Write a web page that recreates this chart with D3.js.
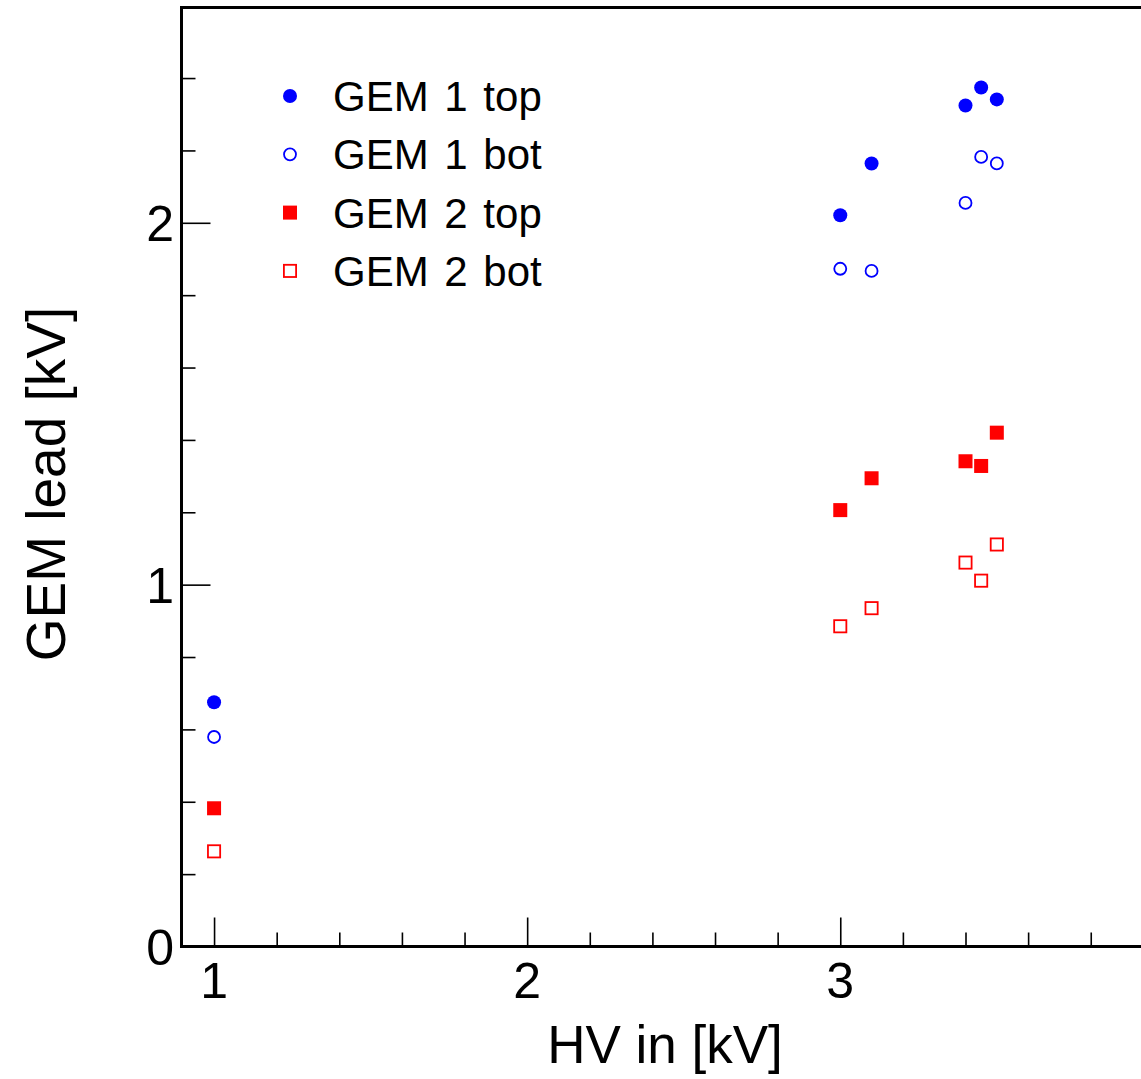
<!DOCTYPE html>
<html>
<head>
<meta charset="utf-8">
<script src="https://cdn.jsdelivr.net/npm/d3@7"></script>
<style>
  html, body { margin: 0; padding: 0; background: #fff; }
  svg { display: block; }
  text { font-family: "Liberation Sans", Arial, Helvetica, sans-serif; fill: #000; }
</style>
</head>
<body>
<svg id="chart" width="1141" height="1079"></svg>
<script>
// ---- data ----
const hvIn = [1.0, 3.0, 3.1, 3.4, 3.45, 3.5];
const gem1Top = [0.675, 2.021, 2.164, 2.324, 2.374, 2.341];
const gem1Bot = [0.579, 1.873, 1.867, 2.055, 2.182, 2.164];
const gem2Top = [0.382, 1.206, 1.294, 1.341, 1.328, 1.420];
const gem2Bot = [0.263, 0.885, 0.935, 1.061, 1.011, 1.111];
const seriesNames = ["GEM 1 top", "GEM 1 bot", "GEM 2 top", "GEM 2 bot"];
const xMajorTicks = [1, 2, 3, 4];
const yMajorTicks = [0, 1, 2];
const xLabelTicks = [1, 2, 3];
const xTickLabels = ["1", "2", "3"];
const yTickLabels = ["0", "1", "2"];
const xTitle = "HV in [kV]";
const yTitle = "GEM lead [kV]";

// ---- layout ----
const svg = d3.select("#chart");
const L = 181.5, T = 7.5, B = 946.5;
const xDomain = [0.896, 4.05];
const pxPerKV = 313.1;
const x = d3.scaleLinear().domain(xDomain).range([L, L + (xDomain[1] - xDomain[0]) * pxPerKV]);
const y = d3.scaleLinear().domain([0, 2.595]).range([B, T]);

const series = [
  { name: seriesNames[0], vals: gem1Top, color: "#0000ff", shape: "circle", filled: true },
  { name: seriesNames[1], vals: gem1Bot, color: "#0000ff", shape: "circle", filled: false },
  { name: seriesNames[2], vals: gem2Top, color: "#ff0000", shape: "square", filled: true },
  { name: seriesNames[3], vals: gem2Bot, color: "#ff0000", shape: "square", filled: false },
];

// minor ticks
const xMinor = d3.range(0, 21).map(i => 0.2 * i).filter(v => v > xDomain[0] && v < xDomain[1] && Math.abs(v - Math.round(v)) > 1e-6);
const yMinor = d3.range(0, 14).map(i => 0.2 * i).filter(v => v < 2.595 && Math.abs(v - Math.round(v)) > 1e-6);

// x axis ticks (drawn inward)
const gx = svg.append("g").attr("transform", `translate(0,${B})`);
gx.call(d3.axisTop(x).tickValues(xMajorTicks).tickSize(29).tickFormat(""));
const gxm = svg.append("g").attr("transform", `translate(0,${B})`);
gxm.call(d3.axisTop(x).tickValues(xMinor).tickSize(14).tickFormat(""));
[gx, gxm].forEach(g => {
  g.select(".domain").remove();
  g.selectAll("line").attr("stroke", "#000").attr("stroke-width", 1.6);
});

const gy = svg.append("g").attr("transform", `translate(${L},0)`);
gy.call(d3.axisRight(y).tickValues(yMajorTicks).tickSize(29).tickFormat(""));
const gym = svg.append("g").attr("transform", `translate(${L},0)`);
gym.call(d3.axisRight(y).tickValues(yMinor).tickSize(14).tickFormat(""));
[gy, gym].forEach(g => {
  g.select(".domain").remove();
  g.selectAll("line").attr("stroke", "#000").attr("stroke-width", 1.6);
});

// tick labels
svg.append("g").selectAll("text").data(xLabelTicks).join("text")
  .attr("x", d => x(d)).attr("y", 998)
  .attr("text-anchor", "middle").attr("font-size", 50)
  .text((d, i) => xTickLabels[i]);
svg.append("g").selectAll("text").data(yMajorTicks).join("text")
  .attr("x", 174).attr("y", d => y(d) + 18)
  .attr("text-anchor", "end").attr("font-size", 50)
  .text((d, i) => yTickLabels[i]);

// frame
svg.append("path")
  .attr("d", `M${x(xDomain[1])},${T} H${L} V${B} H${x(xDomain[1])}`)
  .attr("fill", "none").attr("stroke", "#000").attr("stroke-width", 3);

// titles
svg.append("text").attr("x", 665).attr("y", 1063).attr("text-anchor", "middle")
  .attr("font-size", 53).text(xTitle);
svg.append("text").attr("transform", `translate(65,484) rotate(-90)`).attr("text-anchor", "middle")
  .attr("font-size", 55).text(yTitle);

// markers
function drawMarker(g, s, cx, cy) {
  const r = 7;
  if (s.shape === "circle") {
    if (s.filled) {
      g.append("circle").attr("cx", cx).attr("cy", cy).attr("r", r).attr("fill", s.color);
    } else {
      g.append("circle").attr("cx", cx).attr("cy", cy).attr("r", r - 1)
        .attr("fill", "none").attr("stroke", s.color).attr("stroke-width", 1.8);
    }
  } else {
    if (s.filled) {
      g.append("rect").attr("x", cx - r).attr("y", cy - r).attr("width", 2 * r).attr("height", 2 * r).attr("fill", s.color);
    } else {
      g.append("rect").attr("x", cx - r + 0.9).attr("y", cy - r + 0.9).attr("width", 2 * r - 1.8).attr("height", 2 * r - 1.8)
        .attr("fill", "none").attr("stroke", s.color).attr("stroke-width", 1.8);
    }
  }
}
const gm = svg.append("g");
series.forEach(s => {
  s.vals.forEach((v, i) => drawMarker(gm, s, x(hvIn[i]), y(v)));
});

// legend
const lg = svg.append("g");
series.forEach((s, i) => {
  const cy = 96 + i * 58.3;
  drawMarker(lg, s, 290, cy);
  lg.append("text").attr("x", 333).attr("y", cy + 15).attr("font-size", 42)
    .attr("word-spacing", 4).text(s.name);
});
</script>
</body>
</html>
